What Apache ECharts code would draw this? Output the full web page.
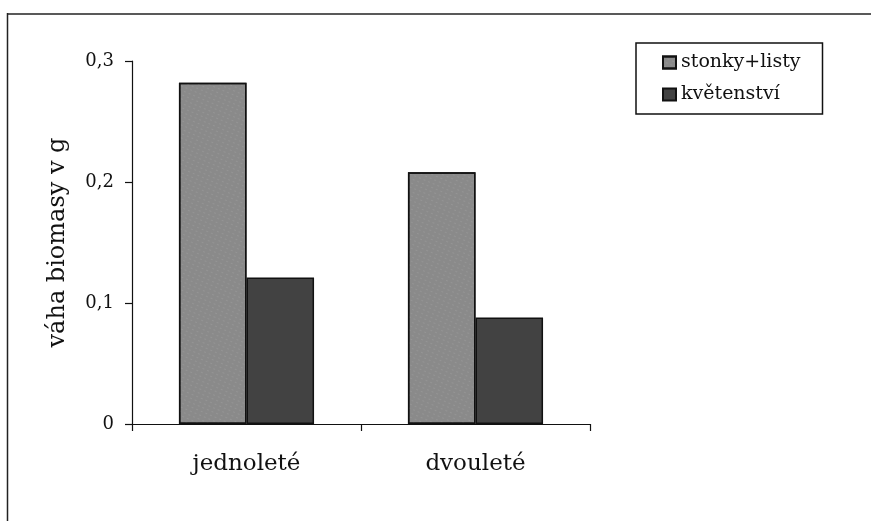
<!DOCTYPE html>
<html>
<head>
<meta charset="utf-8">
<script src="https://cdn.jsdelivr.net/npm/echarts@6/dist/echarts.min.js"></script>
<style>
  html, body { margin: 0; padding: 0; background: #fff; }
  #chart-biomasa { width: 871px; height: 521px; }
</style>
</head>
<body>
<div id="chart-biomasa"></div>
<script>
// data
var categories = ['jednoleté', 'dvouleté']
var stonkyListy = [0.282, 0.208]
var kvetenstvi = [0.121, 0.088]
var seriesNames = ['stonky+listy', 'květenství']

var serif = '"DejaVu Serif", "Liberation Serif", serif'
var myChart = echarts.init(document.getElementById('chart-biomasa'))

var option = {
  backgroundColor: '#ffffff',
  animation: false,
  textStyle: { fontFamily: serif, color: '#111' },
  grid: { left: 132, top: 61, right: 281, bottom: 97 },
  legend: {
    data: seriesNames,
    orient: 'vertical',
    left: 636,
    top: 43,
    padding: [10, 22, 10, 26],
    itemGap: 13,
    itemWidth: 13,
    itemHeight: 12,
    icon: 'rect',
    borderColor: '#111',
    borderWidth: 1.5,
    textStyle: { fontFamily: serif, fontSize: 19, color: '#111' }
  },
  xAxis: {
    type: 'category',
    data: categories,
    axisLine: { lineStyle: { color: '#111', width: 1.2 } },
    axisTick: { show: true, length: 7, lineStyle: { color: '#111', width: 1.2 } },
    axisLabel: { fontFamily: serif, fontSize: 23, color: '#111', margin: 29 }
  },
  yAxis: {
    type: 'value',
    min: 0,
    max: 0.3,
    interval: 0.1,
    name: 'váha biomasy v g',
    nameLocation: 'middle',
    nameGap: 62,
    nameTextStyle: { fontFamily: serif, fontSize: 24, color: '#111' },
    splitLine: { show: false },
    axisLine: { show: true, lineStyle: { color: '#111', width: 1.2 } },
    axisTick: { show: true, length: 7, lineStyle: { color: '#111', width: 1.2 } },
    axisLabel: {
      fontFamily: serif,
      fontSize: 18,
      color: '#111',
      margin: 18,
      formatter: function (v) { return String(+v.toFixed(1)).replace('.', ',') }
    }
  },
  series: [
    {
      name: seriesNames[0],
      type: 'bar',
      data: stonkyListy,
      barGap: '0%',
      barCategoryGap: '41%',
      itemStyle: {
        color: '#8a8a8a',
        borderColor: '#111',
        borderWidth: 1.5,
        decal: {
          symbol: 'rect',
          symbolSize: 0.5,
          color: 'rgba(255,255,255,0.35)',
          dashArrayX: [2, 3],
          dashArrayY: [1, 3],
          rotation: 0.4
        }
      }
    },
    {
      name: seriesNames[1],
      type: 'bar',
      data: kvetenstvi,
      itemStyle: { color: '#424242', borderColor: '#111', borderWidth: 1.5 }
    }
  ],
  graphic: [
    { type: 'line', shape: { x1: 7.5, y1: 13, x2: 7.5, y2: 521 }, style: { stroke: '#222', lineWidth: 1.5 } },
    { type: 'line', shape: { x1: 7, y1: 14, x2: 871, y2: 14 }, style: { stroke: '#222', lineWidth: 1.5 } }
  ]
}

myChart.setOption(option)
</script>
</body>
</html>
